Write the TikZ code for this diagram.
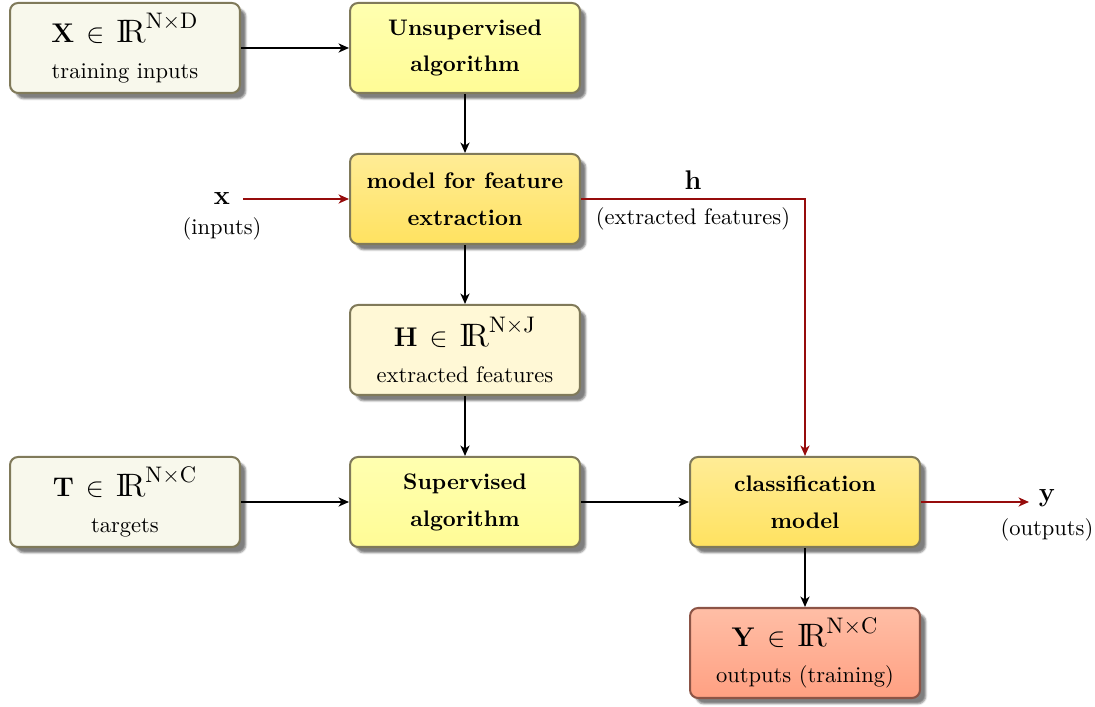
\documentclass[tikz,border=0pt]{standalone}
\usepackage{amsmath}
\usetikzlibrary{arrows.meta,shadows.blur}

\definecolor{edgeolive}{RGB}{128,122,90}
\definecolor{edgebrown}{RGB}{140,84,70}
\definecolor{ivoryfill}{RGB}{248,248,236}
\definecolor{featfill}{RGB}{255,248,214}
\definecolor{algtop}{RGB}{255,255,176}
\definecolor{algbot}{RGB}{255,252,150}
\definecolor{modtop}{RGB}{255,236,150}
\definecolor{modbot}{RGB}{255,226,96}
\definecolor{outtop}{RGB}{255,190,166}
\definecolor{outbot}{RGB}{255,160,130}
\definecolor{flowred}{RGB}{150,12,12}

\tikzset{
  box/.style={draw=edgeolive, line width=0.9pt, rounded corners=3.6pt,
    minimum width=102.2pt, minimum height=40pt, inner sep=0pt, align=center,
    blur shadow={shadow xshift=2.6pt, shadow yshift=-2.6pt,
      shadow blur radius=0.8pt, shadow opacity=50}},
  databox/.style={box, fill=ivoryfill},
  algbox/.style={box, top color=algtop, bottom color=algbot, font=\bfseries},
  modbox/.style={box, top color=modtop, bottom color=modbot, font=\bfseries},
  featbox/.style={box, fill=featfill},
  outbox/.style={box, draw=edgebrown, top color=outtop, bottom color=outbot},
  link/.style={line width=0.8pt, -{Stealth[length=4.6pt,width=4pt,inset=1.3pt]}},
  redlink/.style={link, draw=flowred},
  lbl/.style={inner sep=1.5pt}
}
% matrix symbol with its real-valued shape
\newcommand{\matin}[2]{{\large$\mathbf{#1}\mkern3mu\in\mkern3mu
  \mbox{\Large$\mathrm{I\!R}^{\mathrm{#2}}$}$}}

\begin{document}
\begin{tikzpicture}[x=0.4444pt, y=-0.4444pt]
\useasboundingbox (0,0) rectangle (1095,707);

% data, algorithm and model blocks
\node[databox] (X) at (125,48) {\matin{X}{N\times D}\\[4pt]training inputs};
\node[algbox] (unsup) at (465,48) {Unsupervised\\[4.4pt]algorithm};
\node[modbox] (feat) at (465,199) {model for feature\\[4.4pt]extraction};
\node[featbox] (H) at (465,350) {\matin{H}{N\times J}\\[4pt]extracted features};
\node[databox] (T) at (125,502) {\matin{T}{N\times C}\\[4pt]targets};
\node[algbox] (sup) at (465,502) {Supervised\\[4.4pt]algorithm};
\node[modbox] (clf) at (805,502) {classification\\[4.4pt]model};
\node[outbox] (Y) at (805,653) {\matin{Y}{N\times C}\\[4pt]outputs (training)};

% free inputs and outputs
\node[lbl] (xin) at (222,199) {\large$\mathbf{x}$};
\node[lbl] (xinlbl) at (222,229) {(inputs)};
\node[lbl] (yout) at (1047,498) {\large$\mathbf{y}$};
\node[lbl] (youtlbl) at (1047,530) {(outputs)};
\node[lbl] (hlbl) at (693,180) {\large$\mathbf{h}$};
\node[lbl] (hsub) at (693,219) {(extracted features)};
\coordinate (hcorner) at (805,199);
\coordinate (xstart) at (243,199);
\coordinate (yend) at (1029,502);

% training flow
\draw[link] (X) -- (unsup);
\draw[link] (unsup) -- (feat);
\draw[link] (feat) -- (H);
\draw[link] (H) -- (sup);
\draw[link] (T) -- (sup);
\draw[link] (sup) -- (clf);
\draw[link] (clf) -- (Y);

% prediction flow
\draw[redlink] (xstart) -- (feat.west);
\draw[redlink] (feat.east) -- (hcorner) -- (clf.north);
\draw[redlink] (clf.east) -- (yend);
\end{tikzpicture}
\end{document}
